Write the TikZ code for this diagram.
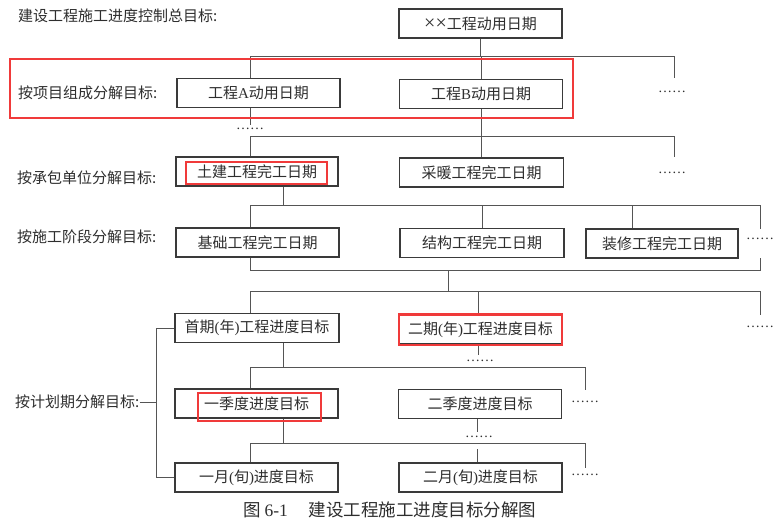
\documentclass[tikz,border=0pt]{standalone}
\usepackage{fontspec}
\setmainfont{Liberation Serif}
\newfontfamily\cjk{Noto Sans CJK SC}
\newcommand\lt[1]{{\rmfamily #1}}
\definecolor{ln}{HTML}{3A3A3A}
\definecolor{cl}{HTML}{555555}
\definecolor{tx}{HTML}{2E2E2E}
\definecolor{rd}{HTML}{F03A3A}
\begin{document}
\begin{tikzpicture}[x=1pt,y=-1pt,
  box/.style={draw=ln,line width=1.2pt,minimum height=29pt,inner sep=0pt,text=tx,font=\cjk\fontsize{15}{15}\selectfont},
  lbl/.style={anchor=west,inner sep=0pt,text=tx,font=\cjk\fontsize{15}{15}\selectfont},
  dotsn/.style={inner sep=0pt,text=tx,font=\rmfamily\fontsize{14}{14}\selectfont},
  cn/.style={draw=cl,line width=0.9pt},
  hl/.style={draw=rd,line width=2.6pt}]
\useasboundingbox (0,0) rectangle (780,523);
\fill[white] (0,0) rectangle (780,523);

% labels
\node[lbl] (l0) at (18,16) {建设工程施工进度控制总目标:};
\node[lbl] (l1) at (18,93) {按项目组成分解目标:};
\node[lbl] (l2) at (17,178) {按承包单位分解目标:};
\node[lbl] (l3) at (17,237) {按施工阶段分解目标:};
\node[lbl] (l4) at (15,402) {按计划期分解目标:};

% boxes
\node[box,minimum width=163pt] (top) at (480.5,23.5) {\lt{\fontsize{20}{15}\selectfont ××}工程动用日期};
\node[box,minimum width=163pt] (pa) at (258.5,93) {工程\lt{A}动用日期};
\node[box,minimum width=163pt] (pb) at (481,94) {工程\lt{B}动用日期};
\node[box,minimum width=162pt] (tj) at (257,171.5) {土建工程完工日期};
\node[box,minimum width=164pt] (cn1) at (481.5,172.5) {采暖工程完工日期};
\node[box,minimum width=163pt] (jc) at (257.5,242.5) {基础工程完工日期};
\node[box,minimum width=164pt] (jg) at (482,243) {结构工程完工日期};
\node[box,minimum width=152pt] (zx) at (662,243.5) {装修工程完工日期};
\node[box,minimum width=164pt] (sq) at (257,328) {首期\lt{(}年\lt{)}工程进度目标};
\node[box,minimum width=162pt] (eq) at (480.5,329.5) {二期\lt{(}年\lt{)}工程进度目标};
\node[box,minimum width=163pt] (j1) at (256.5,403.5) {一季度进度目标};
\node[box,minimum width=163pt] (j2) at (480,404) {二季度进度目标};
\node[box,minimum width=163pt] (y1) at (256.5,477.5) {一月\lt{(}旬\lt{)}进度目标};
\node[box,minimum width=163pt] (y2) at (480.5,477.5) {二月\lt{(}旬\lt{)}进度目标};

% dots
\node[dotsn] (d1) at (672,92) {……};
\node[dotsn] (d2) at (250,129) {……};
\node[dotsn] (d3) at (672,173) {……};
\node[dotsn] (d4) at (760,239) {……};
\node[dotsn] (d5) at (760,327) {……};
\node[dotsn] (d6) at (480,361) {……};
\node[dotsn] (d7) at (585,402) {……};
\node[dotsn] (d8) at (479,437) {……};
\node[dotsn] (d9) at (585,475) {……};

% junction coordinates
\coordinate (h1l) at (250,56.5);  \coordinate (h1r) at (674,56.5);
\coordinate (a1) at (250,125);
\coordinate (h2l) at (250,136);   \coordinate (h2r) at (674,136);
\coordinate (s3) at (283,205.5);
\coordinate (h3l) at (250,205.5); \coordinate (h3r) at (760,205.5);
\coordinate (z3) at (632,205.5);
\coordinate (e3) at (760,228.5);
\coordinate (h4l) at (250,270);   \coordinate (h4r) at (760,270);
\coordinate (e4) at (760,258);
\coordinate (s4) at (448,270);
\coordinate (h5l) at (250,291);   \coordinate (h5r) at (760,291);
\coordinate (e5) at (760,315);
\coordinate (q5) at (478,291);
\coordinate (f6) at (478,355);
\coordinate (h6l) at (250,367);   \coordinate (h6r) at (585,367);
\coordinate (s6) at (283,367);
\coordinate (e6) at (585,390);
\coordinate (f8) at (477,432);
\coordinate (h7l) at (250,443);   \coordinate (h7r) at (585,443);
\coordinate (s7) at (283,443);
\coordinate (e7) at (585,468);
\coordinate (g7) at (477,449);
\coordinate (br) at (156,402);

% level 1
\draw[cn] (top.south) -- (top.south |- h1l);
\draw[cn] (h1l |- pa.north) -- (h1l) -- (h1r) -- (h1r |- pa.north);
\draw[cn] (pb.north) -- (pb.north |- h1l);
\draw[cn] (pa.south -| a1) -- (a1);
% level 2
\draw[cn] (pb.south) -- (pb.south |- h2l);
\draw[cn] (h2l |- tj.north) -- (h2l) -- (h2r) -- (h2r |- cn1.north);
\draw[cn] (cn1.north) -- (cn1.north |- h2l);
% level 3
\draw[cn] (tj.south -| s3) -- (s3);
\draw[cn] (h3l |- jc.north) -- (h3l) -- (h3r) -- (e3);
\draw[cn] (jg.north) -- (jg.north |- h3l);
\draw[cn] (zx.north -| z3) -- (z3);
% level 4
\draw[cn] (jc.south -| h4l) -- (h4l) -- (h4r) -- (e4);
\draw[cn] (s4) -- (s4 |- h5l);
\draw[cn] (h5l |- sq.north) -- (h5l) -- (h5r) -- (e5);
\draw[cn] (q5) -- (eq.north -| q5);
\draw[cn] (eq.south -| f6) -- (f6);
% quarters
\draw[cn] (sq.south -| s6) -- (s6);
\draw[cn] (h6l |- j1.north) -- (h6l) -- (h6r) -- (e6);
\draw[cn] (j2.south -| f8) -- (f8);
% months
\draw[cn] (j1.south -| s7) -- (s7);
\draw[cn] (h7l |- y1.north) -- (h7l) -- (h7r) -- (e7);
\draw[cn] (g7) -- (y2.north -| g7);
% bracket
\draw[cn] (sq.west) -- (sq.west -| br) -- (y1.west -| br) -- (y1.west);
\draw[cn] (l4.east) -- (l4.east -| br);

% red highlights
\draw[hl] (10,59) rectangle (573,118);
\draw[hl] (186,162) rectangle (327,184);
\draw[hl] (399,314.5) rectangle (562,345);
\draw[hl] (198,393) rectangle (321,421);

% caption
\node[anchor=west,inner sep=0pt,text=tx,font=\cjk\fontsize{17.5}{17.5}\selectfont] (cap) at (243,510) {图 \lt{6-1}\hspace{1.2em}建设工程施工进度目标分解图};
\end{tikzpicture}
\end{document}
